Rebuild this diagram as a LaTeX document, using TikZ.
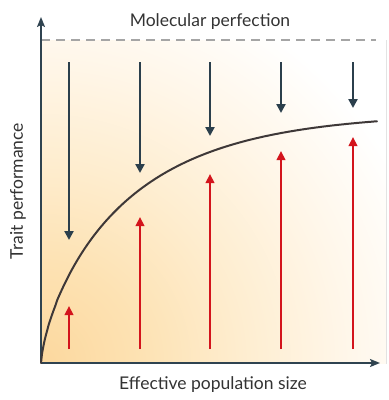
\documentclass[tikz,border=0pt]{standalone}
\usepackage{fontspec}
\setmainfont{Lato}
\usetikzlibrary{arrows.meta}
\definecolor{axiscol}{HTML}{2F4350}
\definecolor{darkarr}{HTML}{2B3F4C}
\definecolor{redarr}{HTML}{D3141C}
\definecolor{curvecol}{HTML}{3E3838}
\definecolor{dashcol}{HTML}{A5A5A5}
\definecolor{warmA}{HTML}{FCD89E}
\definecolor{warmB}{HTML}{FDE2B3}
\definecolor{warmC}{HTML}{FEEDCF}
\definecolor{warmD}{HTML}{FFF6E8}
\pgfdeclareradialshading{warmshade}{\pgfpoint{0bp}{0bp}}{color(0bp)=(warmA); color(5.2bp)=(warmB); color(10.4bp)=(warmC); color(15.6bp)=(warmD); color(21bp)=(white); color(50bp)=(white)}
\tikzset{
  axisline/.style={line width=1.8pt, draw=axiscol, -{Stealth[length=10pt,width=8pt,inset=2pt]}},
  downarr/.style={line width=2.8pt, draw=darkarr, -{Triangle[length=9pt,width=9pt]}},
  uparr/.style={line width=2.6pt, draw=redarr, -{Triangle[length=9pt,width=8.5pt]}},
  lbl/.style={font=\fontsize{17.5}{20}\selectfont, text=black!80, inner sep=0pt}
}
\begin{document}
\begin{tikzpicture}[x=1pt,y=-1pt]
\useasboundingbox (0,0) rectangle (389,400);
\begin{scope}
  \clip (41,40) rectangle (386,363);
  \fill[shading=warmshade] (41,363) circle (480);
\end{scope}
% dashed line
\coordinate (dl) at (41,40);
\coordinate (dr) at (376,40);
\draw[dashcol, line width=1.8pt, dash pattern=on 9pt off 6pt] (dl) -- (dr);
\node[lbl] (mp) at (210,22) {Molecular perfection};
% axes
\coordinate (o) at (41,363);
\coordinate (ytip) at (41,17);
\coordinate (xtip) at (380,363);
\draw[axisline] (o) -- (ytip);
\draw[axisline] (o) -- (xtip);
\node[lbl] (xl) at (213,385) {Effective population size};
\node[lbl, rotate=90] (yl) at (18,191) {Trait performance};
% curve
\draw[curvecol, line width=2pt, line cap=round] (o) -- plot[domain=1:336, samples=200, smooth]
  ({41+\x},{363-250*(1-exp(-\x/110))^0.7});
% down arrows
\foreach \x/\e [count=\i] in {69/240, 140/173, 210/136, 281/113, 353/108} {
  \coordinate (dtop\i) at (\x,62);
  \coordinate (dend\i) at (\x,\e);
  \draw[downarr] (dtop\i) -- (dend\i);
}
% up arrows
\foreach \x/\e [count=\i] in {69/306, 140/217, 210/174, 281/151, 353/137} {
  \coordinate (ubot\i) at (\x,349);
  \coordinate (uend\i) at (\x,\e);
  \draw[uparr] (ubot\i) -- (uend\i);
}
\end{tikzpicture}
\end{document}
